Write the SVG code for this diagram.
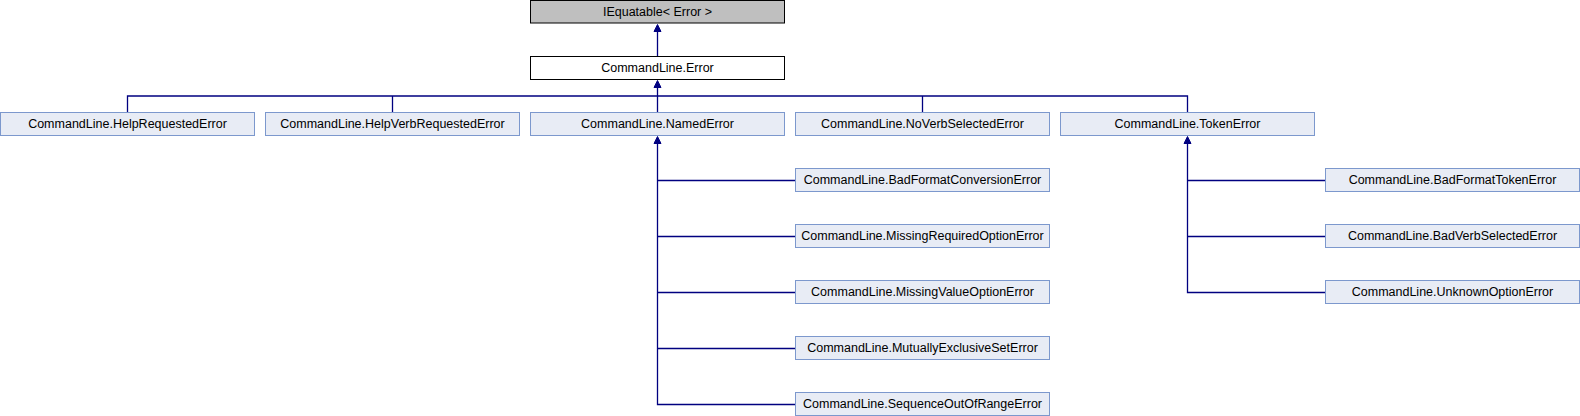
<svg xmlns="http://www.w3.org/2000/svg" width="1580" height="416" viewBox="0 0 1580 416">
<style>
.n rect{fill:#e8ecf5;stroke:#7c98cd;stroke-width:1}
.n.ext rect{fill:#bfbfbf;stroke:#000}
.n.cur rect{fill:#fff;stroke:#000}
.n text{font-family:"Liberation Sans",Arial,sans-serif;font-size:12.5px;fill:#000;text-anchor:middle}
.e{fill:none;stroke:#000080;stroke-width:1.3}
.ah{fill:#000080;stroke:#000080;stroke-width:1}
</style>
<rect width="1580" height="416" fill="#fff"/>
<g id="connectors">
<path class="e" d="M657.5 31V56"/>
<path class="ah" d="M657.5 24.5L654 31.5H661Z"/>
<path class="e" d="M657.5 87V112M127.5 112V96H1187.5V112M392.5 96V112M922.5 96V112"/>
<path class="ah" d="M657.5 80.5L654 87.5H661Z"/>
<path class="e" d="M657.5 143V404.5H795.5M657.5 180.5H795.5M657.5 236.5H795.5M657.5 292.5H795.5M657.5 348.5H795.5"/>
<path class="ah" d="M657.5 136.5L654 143.5H661Z"/>
<path class="e" d="M1187.5 143V292.5H1325.5M1187.5 180.5H1325.5M1187.5 236.5H1325.5"/>
<path class="ah" d="M1187.5 136.5L1184 143.5H1191Z"/>
</g>
<g id="IEquatable" class="n ext"><rect x="530.5" y="0.5" width="254" height="22.5"/><text x="657.5" y="16">IEquatable&lt; Error &gt;</text></g>
<g id="Error" class="n cur"><rect x="530.5" y="56.5" width="254" height="23"/><text x="657.5" y="72">CommandLine.Error</text></g>
<g id="HelpRequestedError" class="n"><rect x="0.5" y="112.5" width="254" height="23"/><text x="127.5" y="128">CommandLine.HelpRequestedError</text></g>
<g id="HelpVerbRequestedError" class="n"><rect x="265.5" y="112.5" width="254" height="23"/><text x="392.5" y="128">CommandLine.HelpVerbRequestedError</text></g>
<g id="NamedError" class="n"><rect x="530.5" y="112.5" width="254" height="23"/><text x="657.5" y="128">CommandLine.NamedError</text></g>
<g id="NoVerbSelectedError" class="n"><rect x="795.5" y="112.5" width="254" height="23"/><text x="922.5" y="128">CommandLine.NoVerbSelectedError</text></g>
<g id="TokenError" class="n"><rect x="1060.5" y="112.5" width="254" height="23"/><text x="1187.5" y="128">CommandLine.TokenError</text></g>
<g id="BadFormatConversionError" class="n"><rect x="795.5" y="168.5" width="254" height="23"/><text x="922.5" y="184">CommandLine.BadFormatConversionError</text></g>
<g id="MissingRequiredOptionError" class="n"><rect x="795.5" y="224.5" width="254" height="23"/><text x="922.5" y="240">CommandLine.MissingRequiredOptionError</text></g>
<g id="MissingValueOptionError" class="n"><rect x="795.5" y="280.5" width="254" height="23"/><text x="922.5" y="296">CommandLine.MissingValueOptionError</text></g>
<g id="MutuallyExclusiveSetError" class="n"><rect x="795.5" y="336.5" width="254" height="23"/><text x="922.5" y="352">CommandLine.MutuallyExclusiveSetError</text></g>
<g id="SequenceOutOfRangeError" class="n"><rect x="795.5" y="392.5" width="254" height="23"/><text x="922.5" y="408">CommandLine.SequenceOutOfRangeError</text></g>
<g id="BadFormatTokenError" class="n"><rect x="1325.5" y="168.5" width="254" height="23"/><text x="1452.5" y="184">CommandLine.BadFormatTokenError</text></g>
<g id="BadVerbSelectedError" class="n"><rect x="1325.5" y="224.5" width="254" height="23"/><text x="1452.5" y="240">CommandLine.BadVerbSelectedError</text></g>
<g id="UnknownOptionError" class="n"><rect x="1325.5" y="280.5" width="254" height="23"/><text x="1452.5" y="296">CommandLine.UnknownOptionError</text></g>
</svg>
